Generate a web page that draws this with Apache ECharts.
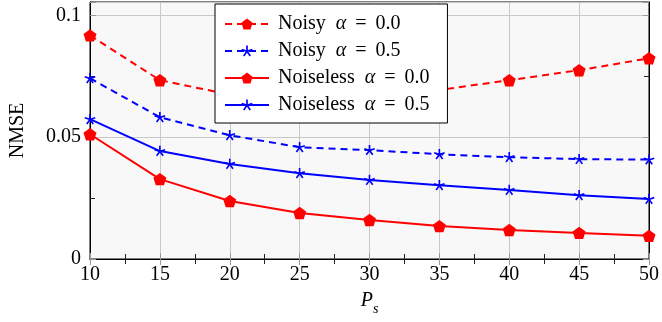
<!DOCTYPE html>
<html><head><meta charset="utf-8">
<script src="https://cdn.jsdelivr.net/npm/echarts@6/dist/echarts.min.js"></script>
<style>html,body{margin:0;padding:0;background:#fff}#c{width:662px;height:322px}</style>
</head><body><div id="c"></div>
<script>
// ---- data ----
const psValues = [10, 15, 20, 25, 30, 35, 40, 45, 50];
const noisyAlpha0 = [0.0918, 0.0734, 0.0675, 0.0665, 0.0668, 0.0694, 0.0734, 0.0775, 0.0824];
const noisyAlpha05 = [0.0742, 0.0582, 0.0508, 0.0459, 0.0447, 0.0430, 0.0418, 0.0410, 0.0408];
const noiselessAlpha0 = [0.0512, 0.0328, 0.0238, 0.0189, 0.0160, 0.0135, 0.0119, 0.0107, 0.0095];
const noiselessAlpha05 = [0.0574, 0.0443, 0.0390, 0.0352, 0.0324, 0.0303, 0.0283, 0.0262, 0.0246];
const seriesNames = ['Noisy α = 0.0', 'Noisy α = 0.5', 'Noiseless α = 0.0', 'Noiseless α = 0.5'];
const yTickLabels = ['0', '0.05', '0.1'];
const xTickLabels = ['10', '15', '20', '25', '30', '35', '40', '45', '50'];

// ---- marker shapes ----
function pentagonPath() {
  let d = '';
  for (let k = 0; k < 5; k++) {
    const a = (-90 + 72 * k) * Math.PI / 180;
    d += (k ? 'L' : 'M') + (Math.cos(a)).toFixed(4) + ' ' + (Math.sin(a)).toFixed(4) + ' ';
  }
  return 'path://' + d + 'Z';
}
function starPath() {
  const w = 0.15;
  let d = '';
  for (let k = 0; k < 5; k++) {
    const a = (-90 + 72 * k) * Math.PI / 180;
    const dx = Math.cos(a), dy = Math.sin(a);
    const nx = -dy * w, ny = dx * w;
    const pts = [[nx - dx * 0.05, ny - dy * 0.05], [nx + dx, ny + dy], [-nx + dx, -ny + dy], [-nx - dx * 0.05, -ny - dy * 0.05]];
    d += pts.map((p, i) => (i ? 'L' : 'M') + p[0].toFixed(4) + ' ' + p[1].toFixed(4)).join(' ') + ' Z ';
  }
  return 'path://' + d;
}
const PENT = pentagonPath();
const STAR = starPath();

const FONT = 'Liberation Serif';
const RED = '#ff0000', BLUE = '#0000ff';

function pairs(ys) { return psValues.map((x, i) => [x, ys[i]]); }

function mkSeries(name, ys, color, dashed, symbol, size) {
  return {
    name, type: 'line', data: pairs(ys), clip: false,
    symbol, symbolSize: size, symbolKeepAspect: true,
    lineStyle: { color, width: 2, type: dashed ? [7, 5] : 'solid' },
    itemStyle: { color, borderWidth: 0 },
    emphasis: { disabled: true }, animation: false
  };
}

const tickBase = {
  axisLine: { show: true, lineStyle: { color: '#000', width: 1 } },
  axisTick: { show: true, inside: true, length: 6, lineStyle: { color: '#999' } },
  minorTick: { show: true, splitNumber: 2, length: 5, lineStyle: { color: '#222' } }
};

const chart = echarts.init(document.getElementById('c'), null, { renderer: 'canvas' });
chart.setOption({
  animation: false,
  textStyle: { fontFamily: FONT },
  grid: { left: 90, right: 11, top: 2, bottom: 63, show: true, backgroundColor: '#f8f8f8', borderColor: '#000', borderWidth: 1 },
  xAxis: [
    Object.assign({
      type: 'value', min: 10, max: 50, interval: 5, position: 'bottom',
      splitLine: { show: true, lineStyle: { color: '#c8c8c8', width: 1 } },
      axisLabel: { fontFamily: FONT, fontSize: 20, color: '#000', margin: 6,
        formatter: v => { const i = xTickLabels.indexOf(String(v)); return i >= 0 ? xTickLabels[i] : ''; } },
      name: '{p|P}{s|s}', nameLocation: 'middle', nameGap: 31,
      nameTextStyle: { rich: {
        p: { fontFamily: FONT, fontStyle: 'italic', fontSize: 20, color: '#000', lineHeight: 22 },
        s: { fontFamily: FONT, fontStyle: 'italic', fontSize: 14, color: '#000', lineHeight: 14, verticalAlign: 'bottom', padding: [0, 0, -4, 0] }
      } }
    }, tickBase),
    Object.assign({
      type: 'value', min: 10, max: 50, interval: 5, position: 'top',
      splitLine: { show: false }, axisLabel: { show: false }
    }, tickBase)
  ],
  yAxis: [
    Object.assign({
      type: 'value', min: 0, max: 0.1055, interval: 0.05, position: 'left',
      splitLine: { show: true, lineStyle: { color: '#c8c8c8', width: 1 } },
      axisLabel: { fontFamily: FONT, fontSize: 20, color: '#000', margin: 9, showMaxLabel: false,
        formatter: v => { const i = Math.round(v / 0.05); return (Math.abs(v - i * 0.05) < 1e-9 && yTickLabels[i] !== undefined) ? yTickLabels[i] : ''; } },
      name: 'NMSE', nameLocation: 'middle', nameGap: 62,
      nameTextStyle: { fontFamily: FONT, fontSize: 20, color: '#000' }
    }, tickBase),
    Object.assign({
      type: 'value', min: 0, max: 0.1055, interval: 0.05, position: 'right',
      splitLine: { show: false }, axisLabel: { show: false }
    }, tickBase)
  ],
  legend: {
    data: seriesNames, orient: 'vertical', left: 215, top: 4,
    padding: [10, 18, 8, 9], itemGap: 7, itemWidth: 44, itemHeight: 14,
    backgroundColor: '#fff', borderColor: '#000', borderWidth: 1, borderRadius: 0,
    selectedMode: false,
    formatter: name => {
      const m = name.match(/^(\S+) α = (\S+)$/);
      return '{n|' + m[1] + '}{a|α}{e|=}{n|' + m[2] + '}';
    },
    textStyle: { fontFamily: FONT, fontSize: 20, color: '#000', padding: [0, 0, 0, 4],
      rich: {
        n: { fontFamily: FONT, fontSize: 20, color: '#000' },
        a: { fontFamily: FONT, fontSize: 20, color: '#000', fontStyle: 'italic', padding: [0, 0, 0, 10] },
        e: { fontFamily: FONT, fontSize: 20, color: '#000', padding: [0, 9, 0, 9] }
      } }
  },
  series: [
    mkSeries(seriesNames[0], noisyAlpha0, RED, true, PENT, 13),
    mkSeries(seriesNames[1], noisyAlpha05, BLUE, true, STAR, 11),
    mkSeries(seriesNames[2], noiselessAlpha0, RED, false, PENT, 13),
    mkSeries(seriesNames[3], noiselessAlpha05, BLUE, false, STAR, 11)
  ]
});
</script></body></html>
